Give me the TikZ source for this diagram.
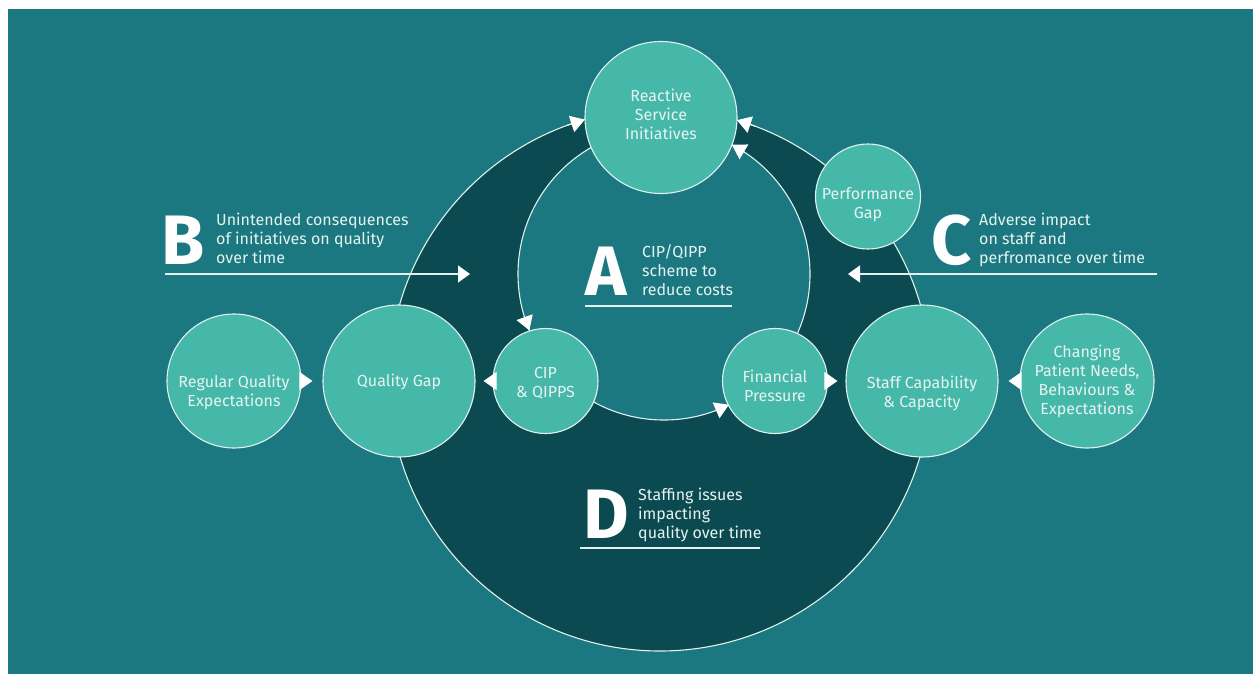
\documentclass[tikz,border=0pt]{standalone}
\usepackage{fontspec}
\setmainfont{Fira Sans}
\usetikzlibrary{arrows.meta}
\definecolor{bgteal}{HTML}{1B7880}
\definecolor{ringdark}{HTML}{0B4A50}
\definecolor{bubble}{HTML}{45B8AA}
\definecolor{edgeline}{HTML}{E2F0EE}
\definecolor{txtcol}{HTML}{E6F3F1}
\begin{document}
\begin{tikzpicture}[x=1pt,y=-1pt,
  bub/.style={circle, draw=edgeline, line width=1.1pt, fill=bubble, inner sep=0pt},
  lbl/.style={text=txtcol, align=center, font=\fontsize{16}{19}\selectfont, inner sep=0pt},
  body/.style={text=txtcol, align=left, font=\fontsize{16}{19}\selectfont, inner sep=0pt, anchor=base west},
  big/.style={text=white, font=\fontsize{70}{70}\selectfont\bfseries, inner sep=0pt, anchor=base west},
  conn/.style={draw=white, line width=1pt, -{Triangle[length=13pt,width=18pt,color=white]}},
  arcline/.style={draw=edgeline, line width=1.1pt, -{Triangle[length=14pt,width=17pt,color=white]}},
  pointer/.style={draw=edgeline, line width=1.5pt, -{Triangle[length=12pt,width=17pt,color=white]}},
  rulestyle/.style={draw=edgeline, line width=1.3pt},
]
\useasboundingbox (0,0) rectangle (1253,674);
\fill[white] (0,0) rectangle (1253,674);
\fill[bgteal] (8,9) rectangle (1253,674);
\coordinate (co) at (660,380);
\coordinate (ci) at (664,274);
\draw[edgeline, line width=1.1pt, fill=ringdark] (co) circle[radius=271];
\draw[edgeline, line width=1.1pt, fill=bgteal] (ci) circle[radius=146];
% arrow ends of the circular connectors (the arcs are the circle outlines)
\path (co) ++(253.9:271) coordinate (t1);
\path (co) ++(286.5:271) coordinate (t2);
\path (ci) ++(-62.3:146) coordinate (t3);
\path (ci) ++(157.3:146) coordinate (t4);
\path (ci) ++(63.6:146) coordinate (t5);
\draw[arcline] (co) ++(249.9:271) -- (t1);
\draw[arcline] (co) ++(290.5:271) -- (t2);
\draw[arcline] (ci) ++(-56.3:146) -- (t3);
\draw[arcline] (ci) ++(163.3:146) -- (t4);
\draw[arcline] (ci) ++(69.6:146) -- (t5);
% circles
\node[bub, minimum size=152, label={[lbl, yshift=3]center:Reactive\\Service\\Initiatives}] (rsi) at (661,117.5) {};
\node[bub, minimum size=105, label={[lbl, yshift=-8]center:Performance\\Gap}] (pg) at (868,196.5) {};
\node[bub, minimum size=152, label={[lbl, yshift=-1]center:Quality Gap}] (qg) at (399,381) {};
\node[bub, minimum size=134, label={[lbl, yshift=-11]center:Regular Quality\\Expectations}] (reg) at (234,381) {};
\node[bub, minimum size=105, label={[lbl, yshift=-2]center:CIP\\\& QIPPS}] (cip) at (545.5,381) {};
\node[bub, minimum size=105, label={[lbl, yshift=-5]center:Financial\\Pressure}] (fin) at (775,381) {};
\node[bub, minimum size=152, label={[lbl, yshift=-12]center:Staff Capability\\\& Capacity}] (staff) at (922,381) {};
\node[bub, minimum size=134, label={[lbl, yshift=0]center:Changing\\Patient Needs,\\Behaviours \&\\Expectations}] (chg) at (1087,381) {};
% straight connectors
\draw[conn, shorten >=10pt] (reg) -- (qg);
\draw[conn, shorten >=8pt] (cip) -- (qg);
\draw[conn, shorten >=8pt] (fin) -- (staff);
\draw[conn, shorten >=10pt] (chg) -- (staff);
% B
\coordinate (b0) at (165,274);
\coordinate (b1) at (470,274);
\draw[pointer] (b0) -- (b1);
\node[big] (bl) at (161,264) {B};
\node[body] (btxt) at (216,263) {Unintended consequences\\of initiatives on quality\\over time};
% C
\coordinate (c0) at (1157,274);
\coordinate (c1) at (848,274);
\draw[pointer] (c0) -- (c1);
\node[big] (cl) at (931,264) {C};
\node[body] (ctxt) at (979,263) {Adverse impact\\on staff and\\perfromance over time};
% A
\node[big] (al) at (585,295) {A};
\node[body] (atxt) at (642,295) {CIP/QIPP\\scheme to\\reduce costs};
\coordinate (au0) at (585,306);
\coordinate (au1) at (732,306);
\draw[rulestyle] (au0) -- (au1);
% D
\node[big] (dl) at (583,538) {D};
\node[body] (dtxt) at (638,538) {Staffing issues\\impacting\\quality over time};
\coordinate (du0) at (580,548);
\coordinate (du1) at (760,548);
\draw[rulestyle] (du0) -- (du1);
\end{tikzpicture}
\end{document}
